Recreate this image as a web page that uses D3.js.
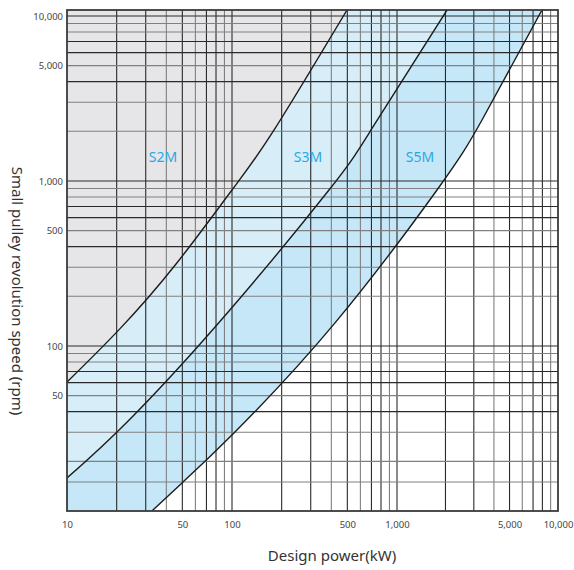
<!DOCTYPE html>
<html>
<head>
<meta charset="utf-8">
<script src="https://cdn.jsdelivr.net/npm/d3@7"></script>
<style>
  html, body { margin: 0; padding: 0; background: #fff; }
  svg { display: block; font-family: "Noto Sans", "Open Sans", sans-serif; }
</style>
</head>
<body>
<svg id="chart" width="574" height="570"></svg>
<script>
// Belt selection chart: design power (kW) against small pulley speed (rpm), log-log.

// Boundary curves between belt sections, as [kW, rpm] pairs
const curveS2M = [[10, 60.5], [20.9, 127], [45.8, 314], [100, 882], [180, 2038], [498, 10870]];
const curveS3M = [[10, 15.85], [23.8, 35.6], [95.9, 163], [387, 882], [696, 2038], [2045, 10870]];
const curveS5M = [[32.7, 10], [49.8, 14.8], [102.8, 29.7], [421, 138], [1772, 882], [3373, 2343], [7956, 10870]];

// Section labels and where they sit (kW, rpm)
const sectionNames = ["S2M", "S3M", "S5M"];
const sectionAt = [[38.2, 1400], [289, 1400], [1390, 1400]];

// Grid lines
const xGrid = [20, 30, 40, 50, 60, 70, 80, 90, 100, 200, 300, 400, 500, 600, 700, 800, 900,
               1000, 2000, 3000, 4000, 5000, 6000, 7000, 8000, 9000];
const yGrid = [15, 20, 30, 40, 50, 60, 70, 80, 90, 100, 200, 300, 400, 500, 600, 700, 800, 900,
               1000, 2000, 3000, 4000, 5000, 6000, 7000, 8000, 9000, 10000];

// Tick labels
const xTicks = [10, 50, 100, 500, 1000, 5000, 10000];
const yTicks = [50, 100, 500, 1000, 5000, 10000];

const xTitle = "Design power(kW)";
const yTitle = "Small pulley revolution speed (rpm)";

const svg = d3.select("#chart");
const L = 67, R = 558, T = 10, B = 511;

const x = d3.scaleLog().domain([10, 100, 1000, 10000]).range([L, 232, 397, R]);
const y = d3.scaleLog().domain([10, 10870]).range([B, T]);

svg.append("defs").append("clipPath").attr("id", "plot")
  .append("rect").attr("x", L).attr("y", T).attr("width", R - L).attr("height", B - T);

const plot = svg.append("g").attr("clip-path", "url(#plot)");

// Background above the S2M boundary
plot.append("rect").attr("x", L).attr("y", T).attr("width", R - L).attr("height", B - T)
  .attr("fill", "#e6e6e8");

const line = d3.line().x(d => x(d[0])).y(d => y(d[1])).curve(d3.curveNatural);
const [xMin, xMax] = [10, 10000];
const [yMin, yMax] = y.domain();

// Region to the lower right of a boundary curve
function regionBelow(pts) {
  const start = pts[0];
  return line(pts) +
    "L" + x(xMax) + "," + y(yMax) +
    "L" + x(xMax) + "," + y(yMin) +
    "L" + x(start[0]) + "," + y(yMin) + "Z";
}

plot.append("path").attr("d", regionBelow(curveS2M)).attr("fill", "#d7eef9");
plot.append("path").attr("d", regionBelow(curveS3M)).attr("fill", "#c6e7f8");
plot.append("path").attr("d", regionBelow(curveS5M)).attr("fill", "#ffffff");

// Grid
const lead = d => Math.round(d / Math.pow(10, Math.floor(Math.log10(d) + 1e-9)));
const darkX = d => [1, 2, 3, 5, 7, 8].includes(lead(d));
const darkY = d => [1, 4, 6, 7].includes(lead(d));

plot.append("g").selectAll("line").data(xGrid).join("line")
  .attr("x1", d => x(d)).attr("x2", d => x(d))
  .attr("y1", T).attr("y2", B)
  .attr("stroke", d => darkX(d) ? "#2a2a2a" : "#808080")
  .attr("stroke-width", 1.1);

plot.append("g").selectAll("line").data(yGrid).join("line")
  .attr("x1", L).attr("x2", R)
  .attr("y1", d => y(d)).attr("y2", d => y(d))
  .attr("stroke", d => darkY(d) ? "#2a2a2a" : "#808080")
  .attr("stroke-width", 1.1);

// Boundary curves
[curveS2M, curveS3M, curveS5M].forEach(c => {
  plot.append("path").attr("d", line(c))
    .attr("fill", "none").attr("stroke", "#1c1c1c").attr("stroke-width", 1.4);
});

// Frame
svg.append("rect").attr("x", L).attr("y", T).attr("width", R - L).attr("height", B - T)
  .attr("fill", "none").attr("stroke", "#3a3a3a").attr("stroke-width", 1.8);

// Section labels
svg.append("g").selectAll("text").data(sectionNames).join("text")
  .attr("x", (d, i) => x(sectionAt[i][0]))
  .attr("y", (d, i) => y(sectionAt[i][1]))
  .attr("text-anchor", "middle")
  .attr("dominant-baseline", "central")
  .attr("font-size", 14)
  .attr("fill", "#29a9e1")
  .text(d => d);

// Axes
const fmt = d3.format(",");
const xAxis = svg.append("g").attr("transform", `translate(0,${B + 6})`)
  .call(d3.axisBottom(x).tickValues(xTicks).tickFormat(fmt).tickSize(0).tickPadding(4));
const yAxis = svg.append("g").attr("transform", `translate(${L - 3},0)`)
  .call(d3.axisLeft(y).tickValues(yTicks).tickFormat(fmt).tickSize(0).tickPadding(1));
[xAxis, yAxis].forEach(a => {
  a.select(".domain").remove();
  a.selectAll("text").attr("font-size", 9.5).attr("fill", "#444")
    .attr("font-family", "'Noto Sans', sans-serif");
});

// Axis titles
svg.append("text").attr("x", 332).attr("y", 561).attr("text-anchor", "middle")
  .attr("font-size", 15).attr("fill", "#333").text(xTitle);
svg.append("text").attr("transform", "translate(12,291) rotate(90)")
  .attr("text-anchor", "middle").attr("font-size", 15).attr("fill", "#333").text(yTitle);
</script>
</body>
</html>
